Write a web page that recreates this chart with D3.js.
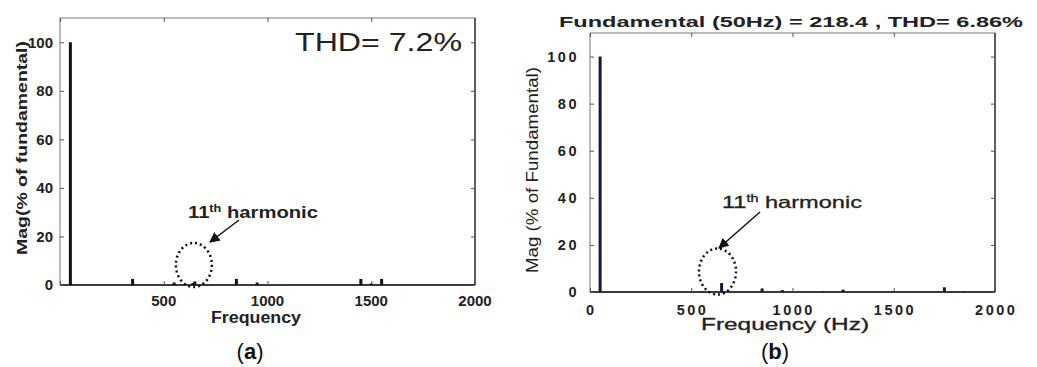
<!DOCTYPE html>
<html>
<head>
<meta charset="utf-8">
<script src="https://cdn.jsdelivr.net/npm/d3@7"></script>
<style>
  body { margin: 0; background: #fff; }
  svg { display: block; }
  text { font-family: 'Liberation Sans', Arial, sans-serif; }
</style>
</head>
<body>
<svg id="chart" width="1037" height="367"></svg>
<script>
// panel (a) spectrum
const freqA = [50, 350, 550, 640, 650, 850, 950, 1450, 1500, 1550]
const magA = [100, 2.5, 1, 0.8, 1.5, 2.5, 1, 2.5, 0.6, 2.5]

// panel (b) spectrum
const freqB = [50, 550, 650, 850, 950, 1150, 1250, 1500, 1750, 1850]
const magB = [100, 0.3, 3.8, 1.5, 0.8, 0.3, 1, 0.3, 2, 0.3]

const yTicks = [0, 20, 40, 60, 80, 100]
const xTicksA = [500, 1000, 1500, 2000]
const xTicksB = [0, 500, 1000, 1500, 2000]

const svg = d3.select('#chart')

function panel (opts) {
  const { left, right, top, bottom } = opts
  const x = d3.scaleLinear([0, 2000], [left, right])
  const y = d3.scaleLinear([0, 110], [bottom, top])
  const g = svg.append('g')

  // frame
  g.append('rect')
    .attr('x', left).attr('y', top)
    .attr('width', right - left).attr('height', bottom - top)
    .attr('fill', 'none').attr('stroke', '#777').attr('stroke-width', 1)
  g.append('line')
    .attr('x1', left).attr('x2', right).attr('y1', bottom).attr('y2', bottom)
    .attr('stroke', '#111').attr('stroke-width', 1.5)
  g.append('line')
    .attr('x1', right).attr('x2', right).attr('y1', top).attr('y2', bottom)
    .attr('stroke', '#222').attr('stroke-width', 1.2)

  // inward ticks on all sides
  const tl = 4
  g.append('g').attr('transform', `translate(${left},0)`)
    .call(d3.axisLeft(y).tickValues(yTicks).tickSize(-tl).tickFormat(''))
    .call(a => a.select('.domain').remove())
    .selectAll('line').attr('stroke', '#555')
  g.append('g').attr('transform', `translate(${right},0)`)
    .call(d3.axisRight(y).tickValues(yTicks).tickSize(-tl).tickFormat(''))
    .call(a => a.select('.domain').remove())
    .selectAll('line').attr('stroke', '#555')
  g.append('g').attr('transform', `translate(0,${top})`)
    .call(d3.axisTop(x).tickValues(xTicksB).tickSize(-tl).tickFormat(''))
    .call(a => a.select('.domain').remove())
    .selectAll('line').attr('stroke', '#555')
  g.append('g').attr('transform', `translate(0,${bottom})`)
    .call(d3.axisBottom(x).tickValues(xTicksB).tickSize(-tl).tickFormat(''))
    .call(a => a.select('.domain').remove())
    .selectAll('line').attr('stroke', '#555')

  // tick labels
  g.selectAll('.ylab').data(yTicks).join('text')
    .attr('x', left - opts.yLabGap)
    .attr('y', d => y(d))
    .attr('dy', '0.35em')
    .attr('text-anchor', 'end')
    .attr('font-size', opts.tickSize)
    .attr('font-weight', 'bold')
    .attr('letter-spacing', opts.tickSpacing)
    .attr('fill', '#222')
    .text(d => d)
  g.selectAll('.xlab').data(opts.xTicks).join('text')
    .attr('x', d => x(d) + opts.tickSpacing / 2)
    .attr('y', bottom + opts.xLabGap)
    .attr('text-anchor', 'middle')
    .attr('font-size', opts.tickSize)
    .attr('font-weight', 'bold')
    .attr('letter-spacing', opts.tickSpacing)
    .attr('fill', '#222')
    .text(d => d)

  // spectrum bars
  g.selectAll('.bar').data(opts.freq.map((f, i) => ({ f, m: opts.mag[i] }))).join('rect')
    .attr('x', d => x(d.f) - opts.barW / 2)
    .attr('y', d => y(d.m))
    .attr('width', opts.barW)
    .attr('height', d => bottom - y(d.m))
    .attr('fill', opts.barColor)

  return { x, y, g }
}

// ---------- panel (a)
const a = panel({
  left: 60, right: 475, top: 18, bottom: 285,
  freq: freqA, mag: magA, xTicks: xTicksA,
  yLabGap: 7, xLabGap: 21, tickSize: 15, tickSpacing: 0,
  barW: 3, barColor: '#111'
})

a.g.append('text')
  .attr('transform', 'translate(27,148) rotate(-90)')
  .attr('text-anchor', 'middle')
  .attr('font-size', 14.5).attr('font-weight', 'bold').attr('fill', '#222')
  .attr('textLength', 214).attr('lengthAdjust', 'spacingAndGlyphs')
  .text('Mag(% of fundamental)')

a.g.append('text')
  .attr('x', 256).attr('y', 323)
  .attr('text-anchor', 'middle')
  .attr('font-size', 16).attr('font-weight', 'bold').attr('fill', '#222')
  .attr('textLength', 90).attr('lengthAdjust', 'spacingAndGlyphs')
  .text('Frequency')

a.g.append('text')
  .attr('x', 295).attr('y', 51)
  .attr('font-size', 25).attr('fill', '#222')
  .attr('textLength', 167).attr('lengthAdjust', 'spacingAndGlyphs')
  .text('THD= 7.2%')

const harmA = a.g.append('text')
  .attr('x', 188).attr('y', 218)
  .attr('font-size', 16).attr('font-weight', 'bold').attr('fill', '#222')
  .attr('textLength', 130).attr('lengthAdjust', 'spacingAndGlyphs')
harmA.append('tspan').text('11')
harmA.append('tspan').attr('dy', -6).attr('font-size', 10).text('th')
harmA.append('tspan').attr('dy', 6).text(' harmonic')

a.g.append('ellipse')
  .attr('cx', a.x(650) - 1).attr('cy', 265).attr('rx', 18).attr('ry', 22)
  .attr('fill', 'none').attr('stroke', '#111').attr('stroke-width', 2.5)
  .attr('stroke-dasharray', '2 3')

// ---------- panel (b)
const b = panel({
  left: 590, right: 995, top: 33, bottom: 292,
  freq: freqB, mag: magB, xTicks: xTicksB,
  yLabGap: 11, xLabGap: 23, tickSize: 14.5, tickSpacing: 2.5,
  barW: 3, barColor: '#141640'
})

b.g.append('text')
  .attr('x', 791).attr('y', 27)
  .attr('text-anchor', 'middle')
  .attr('font-size', 14.5).attr('font-weight', 'bold').attr('fill', '#222')
  .attr('textLength', 464).attr('lengthAdjust', 'spacingAndGlyphs')
  .text('Fundamental (50Hz) = 218.4 , THD= 6.86%')

b.g.append('text')
  .attr('transform', 'translate(538,170) rotate(-90)')
  .attr('text-anchor', 'middle')
  .attr('font-size', 17).attr('fill', '#222')
  .attr('textLength', 206).attr('lengthAdjust', 'spacingAndGlyphs')
  .text('Mag (% of Fundamental)')

b.g.append('text')
  .attr('x', 785).attr('y', 330)
  .attr('text-anchor', 'middle')
  .attr('font-size', 16).attr('fill', '#222')
  .attr('textLength', 168).attr('lengthAdjust', 'spacingAndGlyphs')
  .attr('stroke', '#222').attr('stroke-width', 0.3)
  .text('Frequency (Hz)')

const harmB = b.g.append('text')
  .attr('x', 722).attr('y', 208)
  .attr('font-size', 16.5).attr('fill', '#222')
  .attr('stroke', '#222').attr('stroke-width', 0.3)
  .attr('textLength', 140).attr('lengthAdjust', 'spacingAndGlyphs')
harmB.append('tspan').text('11')
harmB.append('tspan').attr('dy', -6).attr('font-size', 10).text('th')
harmB.append('tspan').attr('dy', 6).text(' harmonic')

b.g.append('ellipse')
  .attr('cx', 717.5).attr('cy', 271.5).attr('rx', 18.5).attr('ry', 23)
  .attr('fill', 'none').attr('stroke', '#111').attr('stroke-width', 2.5)
  .attr('stroke-dasharray', '2 3')

// arrows
const defs = svg.append('defs')
defs.append('marker')
  .attr('id', 'arrow')
  .attr('viewBox', '0 0 10 10')
  .attr('refX', 9).attr('refY', 5)
  .attr('markerWidth', 7).attr('markerHeight', 7)
  .attr('orient', 'auto')
  .append('path').attr('d', 'M0,0 L10,5 L0,10 Z').attr('fill', '#111')

svg.append('line')
  .attr('x1', 239).attr('y1', 220).attr('x2', 210).attr('y2', 242)
  .attr('stroke', '#111').attr('stroke-width', 1.5).attr('marker-end', 'url(#arrow)')
svg.append('line')
  .attr('x1', 760).attr('y1', 212).attr('x2', 719).attr('y2', 248)
  .attr('stroke', '#111').attr('stroke-width', 1.5).attr('marker-end', 'url(#arrow)')

// captions
const capA = svg.append('text').attr('x', 250).attr('y', 359).attr('text-anchor', 'middle')
  .attr('font-family', "'Liberation Serif', serif").attr('font-size', 22).attr('fill', '#111')
capA.append('tspan').text('(')
capA.append('tspan').attr('font-weight', 'bold').text('a')
capA.append('tspan').text(')')

const capB = svg.append('text').attr('x', 775).attr('y', 359).attr('text-anchor', 'middle')
  .attr('font-family', "'Liberation Serif', serif").attr('font-size', 22).attr('fill', '#111')
capB.append('tspan').text('(')
capB.append('tspan').attr('font-weight', 'bold').text('b')
capB.append('tspan').text(')')
</script>
</body>
</html>
